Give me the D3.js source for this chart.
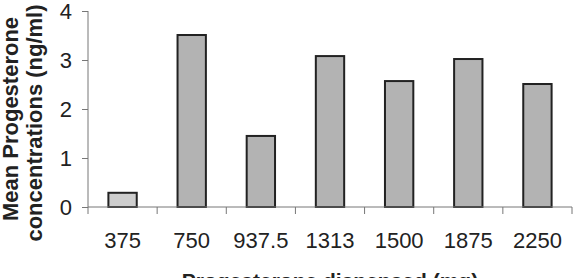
<!DOCTYPE html>
<html>
<head>
<meta charset="utf-8">
<script src="https://cdn.jsdelivr.net/npm/d3@7"></script>
<style>
  body { margin: 0; background: #fff; }
  svg { display: block; font-family: "Liberation Sans", Arial, sans-serif; }
</style>
</head>
<body>
<svg id="chart"></svg>
<script>
// doses (mg) and mean progesterone (ng/ml)
var doses = ["375", "750", "937.5", "1313", "1500", "1875", "2250"]
var means = [0.29, 3.51, 1.45, 3.08, 2.57, 3.02, 2.51]
var yTicks = [0, 1, 2, 3, 4]

var screen = {width: 578, height: 278}
var margins = {top: 11, bottom: 71, left: 88, right: 6}
var graph = {
    width: screen.width - margins.left - margins.right,
    height: screen.height - margins.top - margins.bottom
}

var svg = d3.select("#chart")
    .attr("width", screen.width)
    .attr("height", screen.height)

var xScale = d3.scaleBand()
    .domain(doses)
    .range([0, graph.width])
    .paddingInner(0.59)
    .paddingOuter(0.295)

var yScale = d3.scaleLinear()
    .domain([0, 4])
    .range([graph.height, 0])

var g = svg.append("g")
    .attr("transform", "translate(" + margins.left + "," + margins.top + ")")

// bars
g.selectAll("rect.bar")
    .data(means)
    .enter()
    .append("rect")
    .classed("bar", true)
    .attr("x", function(d, i) { return xScale(doses[i]) })
    .attr("width", xScale.bandwidth())
    .attr("y", function(d) { return yScale(d) })
    .attr("height", function(d) { return graph.height - yScale(d) })
    .attr("fill", function(d, i) { return i == 0 ? "#cdcdcd" : "#b3b3b3" })
    .attr("stroke", "#222")
    .attr("stroke-width", 2)

// y axis
var yAxis = g.append("g")
    .call(d3.axisLeft(yScale).tickValues(yTicks).tickSize(6).tickFormat(d3.format("d")))
yAxis.select(".domain").attr("stroke", "#777").attr("d", "M0," + graph.height + "V0")
yAxis.selectAll(".tick line").attr("stroke", "#777")
yAxis.selectAll(".tick text")
    .attr("x", -16)
    .attr("font-size", 22)
    .attr("fill", "#222")
    .attr("font-family", "Liberation Sans, Arial, sans-serif")

// x axis with ticks at category boundaries
var xAxis = g.append("g")
    .attr("transform", "translate(0," + graph.height + ")")
xAxis.append("line")
    .attr("x1", 0).attr("x2", graph.width)
    .attr("stroke", "#777")
var step = xScale.step()
xAxis.selectAll("line.tk")
    .data(d3.range(doses.length + 1))
    .enter()
    .append("line")
    .classed("tk", true)
    .attr("x1", function(i) { return xScale(doses[0]) - xScale.paddingOuter() * step + i * step })
    .attr("x2", function(i) { return xScale(doses[0]) - xScale.paddingOuter() * step + i * step })
    .attr("y1", 0).attr("y2", 7)
    .attr("stroke", "#777")
xAxis.selectAll("text")
    .data(doses)
    .enter()
    .append("text")
    .text(function(d) { return d })
    .attr("x", function(d) { return xScale(d) + xScale.bandwidth() / 2 })
    .attr("y", 41)
    .attr("text-anchor", "middle")
    .attr("font-size", 22)
    .attr("fill", "#222")

// axis titles
var yTitle = svg.append("g")
    .attr("transform", "translate(0," + 119 + ") rotate(-90)")
yTitle.append("text")
    .text("Mean Progesterone")
    .attr("y", 18)
    .attr("text-anchor", "middle")
    .attr("font-size", 22)
    .attr("font-weight", "bold")
    .attr("fill", "#222")
yTitle.append("text")
    .text("concentrations (ng/ml)")
    .attr("x", -4)
    .attr("y", 42)
    .attr("text-anchor", "middle")
    .attr("font-size", 22)
    .attr("font-weight", "bold")
    .attr("fill", "#222")

svg.append("text")
    .text("Progesterone dispensed (mg)")
    .attr("x", margins.left + graph.width / 2)
    .attr("y", 288)
    .attr("text-anchor", "middle")
    .attr("font-size", 21)
    .attr("font-weight", "bold")
    .attr("fill", "#222")
</script>
</body>
</html>
